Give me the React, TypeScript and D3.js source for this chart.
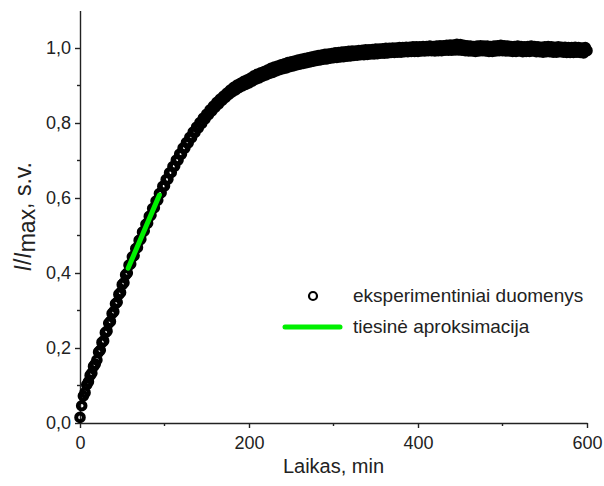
import React, { useEffect, useRef } from 'react';
import * as d3 from 'd3';

// sampling grid of the measurement, min
const timeMin = d3.range(0, 601, 2);

// normalised intensity I/Imax, one value per 2 min
const intensity = [
  0.015, 0.046, 0.072, 0.081, 0.102, 0.110, 0.127, 0.133, 0.151, 0.157,
  0.168, 0.189, 0.194, 0.215, 0.219, 0.241, 0.245, 0.266, 0.271, 0.292,
  0.297, 0.318, 0.322, 0.343, 0.348, 0.369, 0.374, 0.395, 0.400, 0.421,
  0.424, 0.443, 0.446, 0.465, 0.468, 0.487, 0.490, 0.509, 0.512, 0.530,
  0.533, 0.551, 0.554, 0.572, 0.574, 0.592, 0.594, 0.612, 0.614, 0.631,
  0.632, 0.649, 0.650, 0.667, 0.668, 0.684, 0.685, 0.701, 0.701, 0.717,
  0.717, 0.733, 0.733, 0.748, 0.747, 0.762, 0.761, 0.776, 0.775, 0.789,
  0.787, 0.801, 0.799, 0.813, 0.811, 0.824, 0.822, 0.835, 0.832, 0.845,
  0.842, 0.855, 0.851, 0.864, 0.860, 0.872, 0.868, 0.880, 0.876, 0.888,
  0.883, 0.895, 0.888, 0.901, 0.894, 0.906, 0.899, 0.911, 0.903, 0.915,
  0.907, 0.920, 0.912, 0.926, 0.917, 0.930, 0.920, 0.934, 0.925, 0.937,
  0.928, 0.941, 0.932, 0.946, 0.935, 0.949, 0.939, 0.952, 0.942, 0.955,
  0.945, 0.958, 0.947, 0.961, 0.950, 0.963, 0.952, 0.965, 0.955, 0.968,
  0.957, 0.970, 0.959, 0.972, 0.961, 0.974, 0.963, 0.976, 0.965, 0.978,
  0.967, 0.980, 0.968, 0.981, 0.970, 0.983, 0.971, 0.984, 0.973, 0.985,
  0.974, 0.987, 0.975, 0.988, 0.976, 0.989, 0.977, 0.990, 0.978, 0.991,
  0.979, 0.992, 0.980, 0.992, 0.981, 0.993, 0.982, 0.994, 0.982, 0.995,
  0.983, 0.995, 0.984, 0.996, 0.984, 0.997, 0.985, 0.997, 0.986, 0.998,
  0.986, 0.999, 0.987, 0.999, 0.988, 1.000, 0.988, 1.000, 0.989, 1.001,
  0.989, 1.001, 0.990, 1.002, 0.990, 1.002, 0.991, 1.003, 0.991, 1.003,
  0.991, 1.003, 0.992, 1.004, 0.992, 1.004, 0.993, 1.005, 0.993, 1.004,
  0.992, 1.005, 0.993, 1.006, 0.993, 1.006, 0.994, 1.007, 0.994, 1.008,
  0.994, 1.008, 0.995, 1.010, 0.995, 1.009, 0.994, 1.007, 0.993, 1.006,
  0.992, 1.005, 0.992, 1.004, 0.991, 1.005, 0.992, 1.006, 0.993, 1.005,
  0.992, 1.005, 0.991, 1.004, 0.991, 1.005, 0.992, 1.006, 0.993, 1.007,
  0.993, 1.006, 0.992, 1.005, 0.992, 1.004, 0.991, 1.004, 0.991, 1.005,
  0.992, 1.004, 0.990, 1.003, 0.991, 1.004, 0.991, 1.005, 0.992, 1.004,
  0.990, 1.003, 0.990, 1.002, 0.989, 1.003, 0.990, 1.004, 0.990, 1.003,
  0.989, 1.002, 0.989, 1.003, 0.990, 1.002, 0.989, 1.002, 0.988, 1.001,
  0.988, 1.001, 0.988, 1.002, 0.989, 1.001, 0.988, 1.000, 0.987, 1.001,
  0.993,
];

// linear fit segment (start / end)
const fitTime = [57, 94];
const fitValue = [0.413, 0.608];

const xTicks = [0, 200, 400, 600];
const xMinorTicks = [100, 300, 500];
const yTicks = [0, 0.2, 0.4, 0.6, 0.8, 1.0];
const yMinorTicks = [0.1, 0.3, 0.5, 0.7, 0.9];

const legendLabels = ['eksperimentiniai duomenys', 'tiesinė aproksimacija'];

const FONT = '"Liberation Sans", Arial, Helvetica, sans-serif';

function Chart({ width = 604, height = 486 }) {
  const ref = useRef<SVGSVGElement>(null);

  useEffect(() => {
    const svg = d3.select(ref.current);
    svg.selectAll('*').remove();

    const margin = { top: 10.5, right: 17, bottom: 63, left: 80 };

    const x = d3.scaleLinear()
      .domain([0, 600])
      .range([margin.left, width - margin.right]);

    const y = d3.scaleLinear()
      .domain([0, 1.1])
      .range([height - margin.bottom, margin.top]);

    const comma = (v: number, digits: number) => v.toFixed(digits).replace('.', ',');

    svg.attr('width', width).attr('height', height);

    // x axis
    const gx = svg.append('g')
      .attr('transform', `translate(0,${y(0)})`)
      .call(d3.axisBottom(x).tickValues(xTicks).tickSize(5).tickSizeOuter(0).tickFormat(d => comma(+d, 0)));
    svg.append('g')
      .attr('transform', `translate(0,${y(0)})`)
      .selectAll('line')
      .data(xMinorTicks)
      .enter().append('line')
      .attr('x1', d => x(d)).attr('x2', d => x(d))
      .attr('y1', 0).attr('y2', 3)
      .attr('stroke', '#222').attr('stroke-width', 1.4);

    // y axis
    const gy = svg.append('g')
      .attr('transform', `translate(${x(0)},0)`)
      .call(d3.axisLeft(y).tickValues(yTicks).tickSize(5).tickSizeOuter(0).tickFormat(d => comma(+d, 1)));
    svg.append('g')
      .attr('transform', `translate(${x(0)},0)`)
      .selectAll('line')
      .data(yMinorTicks)
      .enter().append('line')
      .attr('x1', -3).attr('x2', 0)
      .attr('y1', d => y(d)).attr('y2', d => y(d))
      .attr('stroke', '#222').attr('stroke-width', 1.4);

    [gx, gy].forEach(g => {
      g.select('.domain').attr('stroke', '#222').attr('stroke-width', 1.4);
      g.selectAll('.tick line').attr('stroke', '#222').attr('stroke-width', 1.4);
      g.selectAll('.tick text')
        .attr('font-family', FONT)
        .attr('font-size', 18)
        .attr('fill', '#222');
    });
    gx.selectAll('.tick text').attr('dy', '1.0em');
    gy.selectAll('.tick text').attr('x', -9);

    // data points
    const points = timeMin.map((t, i) => ({ t, v: intensity[i] }));
    svg.append('g')
      .selectAll('circle')
      .data(points)
      .enter().append('circle')
      .attr('cx', d => x(d.t))
      .attr('cy', d => y(d.v))
      .attr('r', 3.8)
      .attr('fill', 'none')
      .attr('stroke', '#000')
      .attr('stroke-width', 4);

    // linear fit
    const line = d3.line<number>()
      .x((d, i) => x(fitTime[i]))
      .y(d => y(d));
    svg.append('path')
      .attr('d', line(fitValue))
      .attr('fill', 'none')
      .attr('stroke', '#00f000')
      .attr('stroke-width', 5)
      .attr('stroke-linecap', 'round');

    // legend
    const lg = svg.append('g').attr('font-family', FONT).attr('font-size', 19).attr('fill', '#222');
    lg.append('circle')
      .attr('cx', 313).attr('cy', 296).attr('r', 4)
      .attr('fill', 'none').attr('stroke', '#000').attr('stroke-width', 2.2);
    lg.append('line')
      .attr('x1', 285).attr('x2', 340).attr('y1', 327).attr('y2', 327)
      .attr('stroke', '#00f000').attr('stroke-width', 5).attr('stroke-linecap', 'round');
    lg.append('text').attr('x', 353).attr('y', 302).text(legendLabels[0]);
    lg.append('text').attr('x', 353).attr('y', 333).text(legendLabels[1]);

    // axis titles
    svg.append('text')
      .attr('x', (x(0) + x(600)) / 2)
      .attr('y', 473)
      .attr('text-anchor', 'middle')
      .attr('font-family', FONT)
      .attr('font-size', 20)
      .attr('fill', '#222')
      .text('Laikas, min');

    const yt = svg.append('text')
      .attr('transform', `translate(31,${(y(0) + y(1.1)) / 2}) rotate(-90)`)
      .attr('text-anchor', 'middle')
      .attr('font-family', FONT)
      .attr('font-size', 23)
      .attr('fill', '#222');
    yt.append('tspan').attr('font-style', 'italic').text('I');
    yt.append('tspan').text('/');
    yt.append('tspan').attr('font-style', 'italic').text('I');
    yt.append('tspan').attr('dy', 4).text('max');
    yt.append('tspan').attr('dy', -4).text(', s.v.');
  }, [width, height]);

  return <svg ref={ref} style={{ position: 'absolute', left: 0, top: 0 }}></svg>;
}

export default function App() {
  return <Chart />;
}
